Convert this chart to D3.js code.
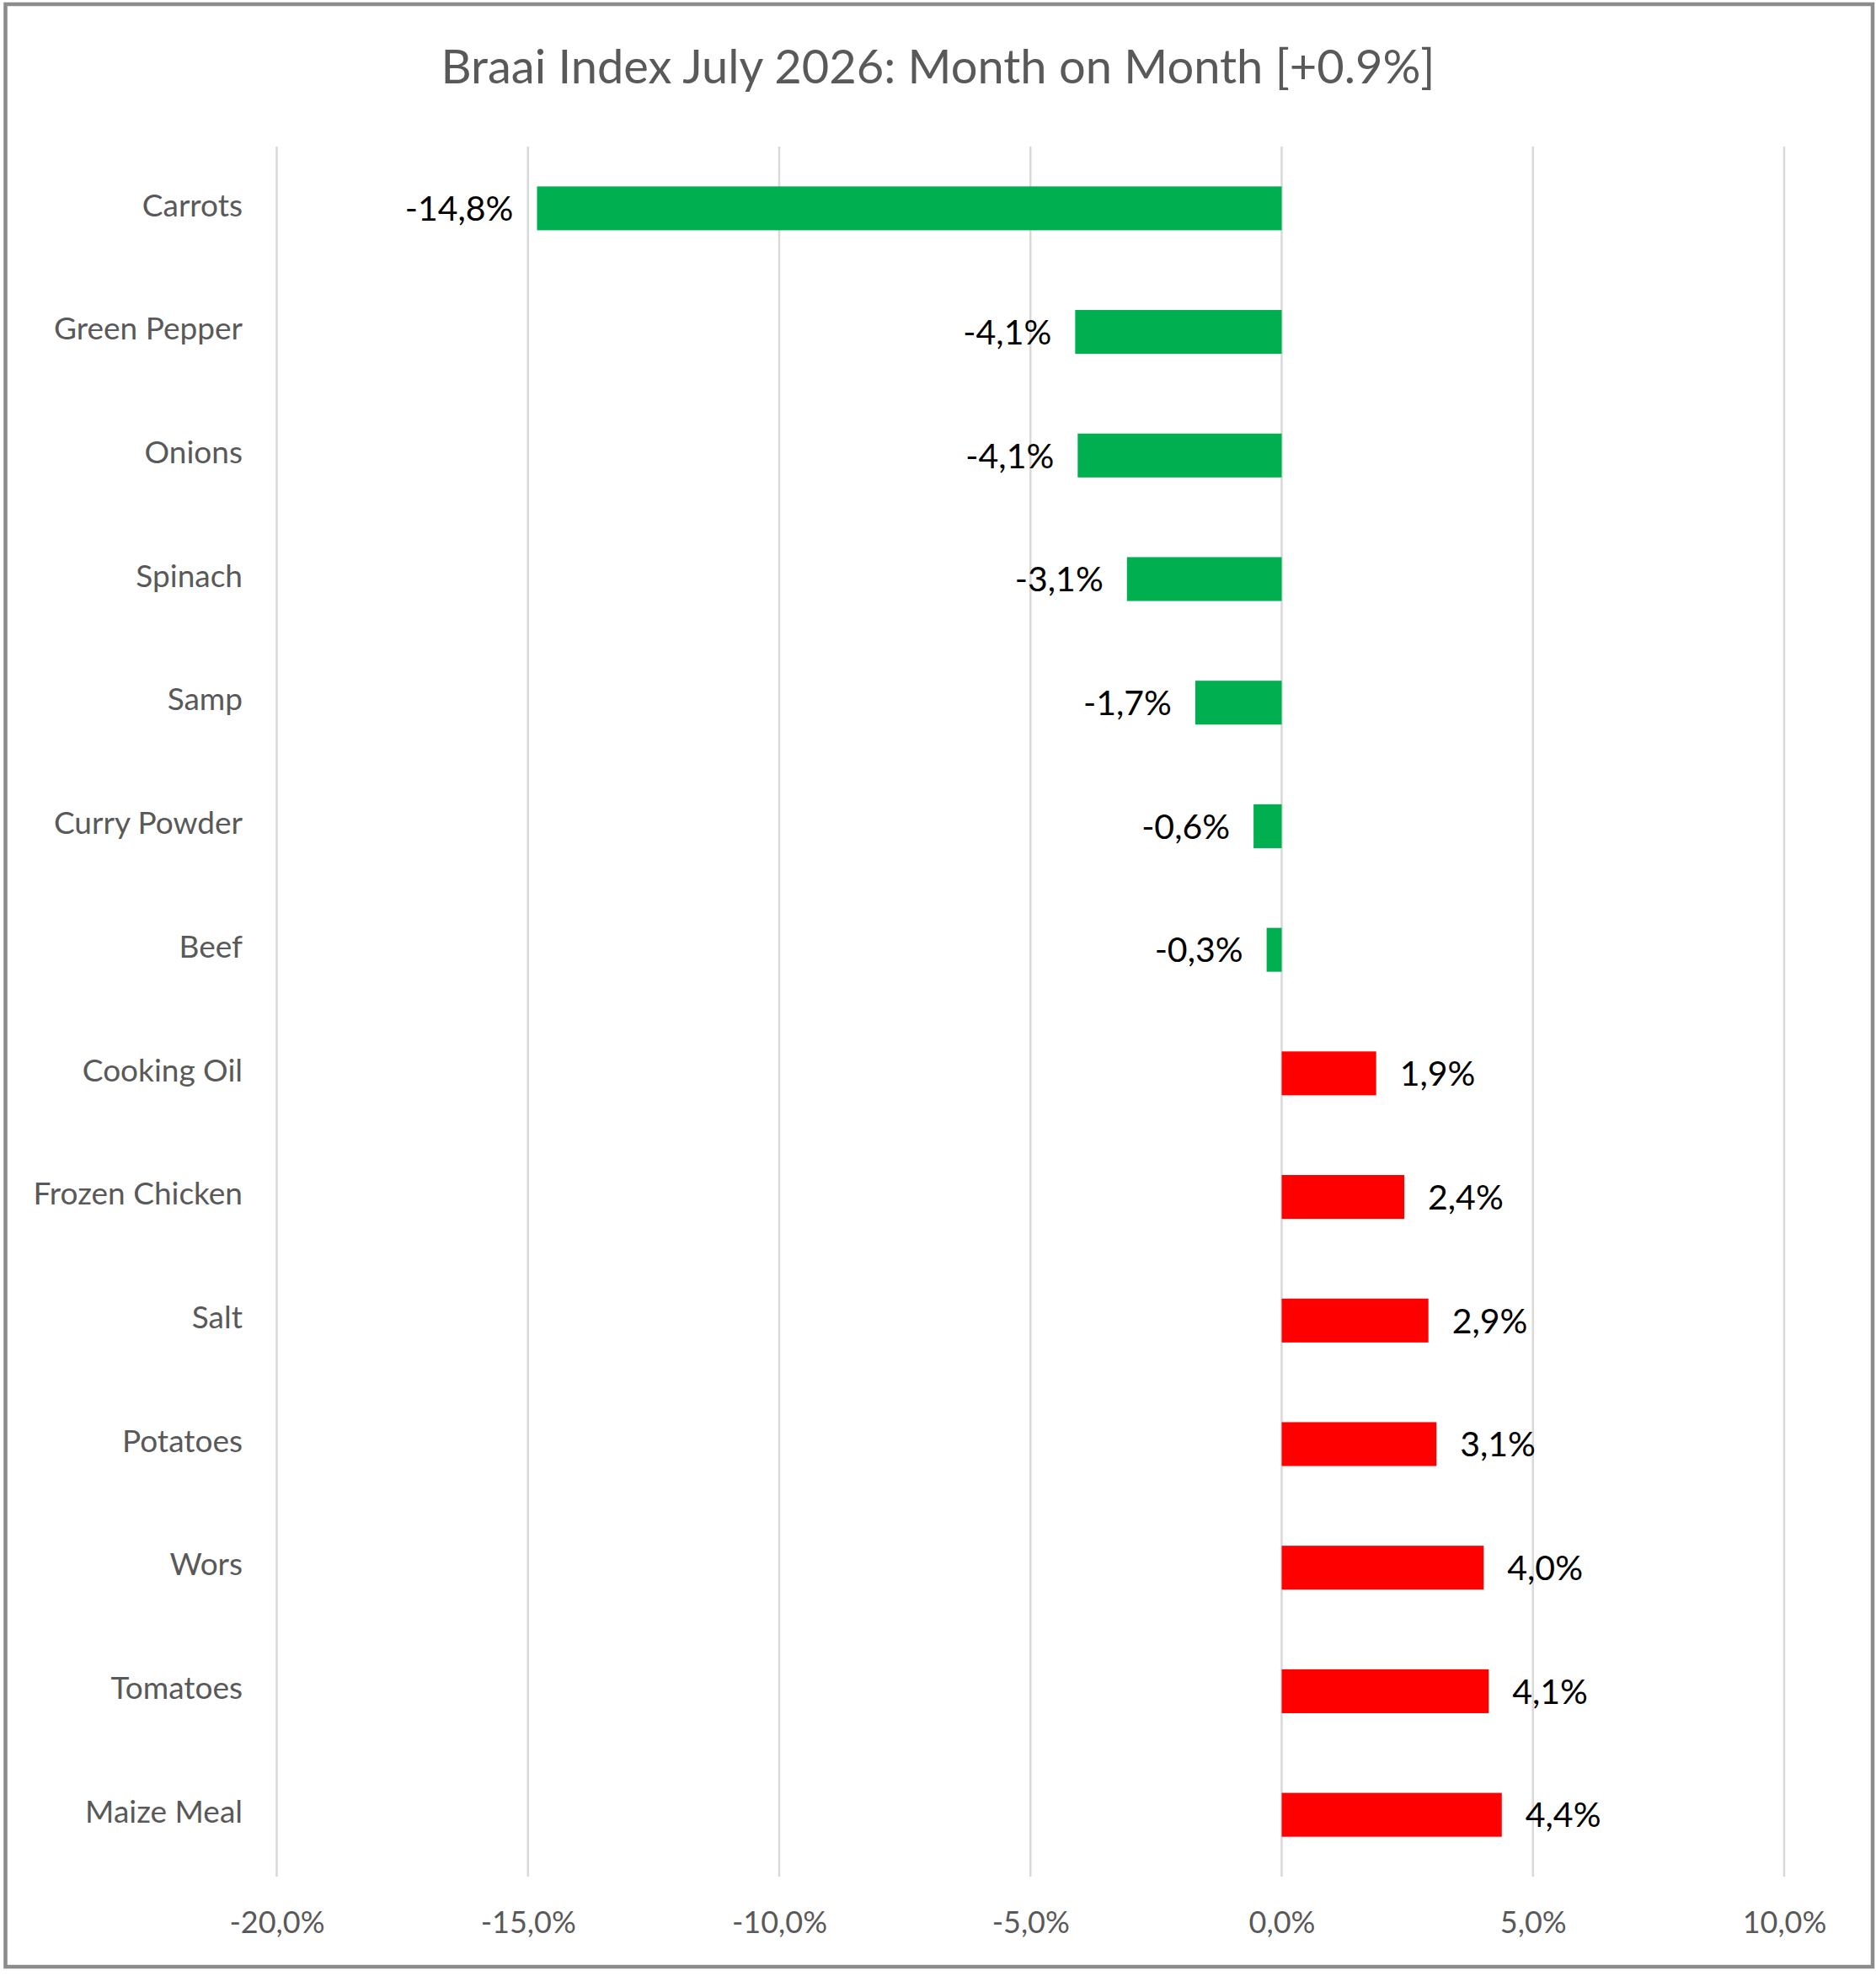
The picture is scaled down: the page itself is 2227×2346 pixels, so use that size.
<!DOCTYPE html>
<html>
<head>
<meta charset="utf-8">
<script src="https://cdn.jsdelivr.net/npm/d3@7"></script>
<style>
  body { margin: 0; background: #fff; }
  text { font-family: Lato, "Open Sans", sans-serif; }
</style>
</head>
<body>
<div id="bar-chart"></div>
<script>
// categories top to bottom
var categories = ["Carrots", "Green Pepper", "Onions", "Spinach", "Samp", "Curry Powder", "Beef",
  "Cooking Oil", "Frozen Chicken", "Salt", "Potatoes", "Wors", "Tomatoes", "Maize Meal"];

// month on month change, percent
var changes = [-14.82, -4.11, -4.06, -3.08, -1.72, -0.56, -0.3,
  1.88, 2.44, 2.92, 3.08, 4.02, 4.12, 4.38];

var tickValues = [-20, -15, -10, -5, 0, 5, 10];
var chartTitle = "Braai Index July 2026: Month on Month [+0.9%]";

var W = 2227, H = 2346;
var plot = {left: 328.5, right: 2118, top: 174, bottom: 2228};

var data = categories.map(function(c, i) { return {name: c, value: changes[i]}; });

// comma decimal and plain hyphen like the original
var fmt = d3.formatLocale({decimal: ",", thousands: " ", grouping: [3], currency: ["", ""], minus: "-"}).format(".1f");
function pct(v) { return fmt(v) + "%"; }

var svg = d3.select("#bar-chart").append("svg")
    .attr("width", W)
    .attr("height", H);

// frame
svg.append("rect")
    .attr("x", 6.5).attr("y", 5)
    .attr("width", W - 10.5).attr("height", H - 16)
    .attr("fill", "#fff")
    .attr("stroke", "#8c8c8c")
    .attr("stroke-width", 4.5);

// scales
var x = d3.scaleLinear()
    .domain([-20, 10])
    .range([plot.left, plot.right]);
var y = d3.scaleBand()
    .domain(categories)
    .range([plot.top, plot.bottom])
    .paddingInner(0.645)
    .paddingOuter(0.3225);

// title
svg.append("text")
    .attr("x", W / 2)
    .attr("y", 99)
    .attr("text-anchor", "middle")
    .style("font-size", "56px")
    .style("fill", "#595959")
    .text(chartTitle);

// vertical gridlines
svg.append("g")
  .selectAll("line")
    .data(tickValues)
  .enter().append("line")
    .attr("x1", function(d) { return x(d); })
    .attr("x2", function(d) { return x(d); })
    .attr("y1", plot.top)
    .attr("y2", plot.bottom)
    .attr("stroke", "#d9d9d9")
    .attr("stroke-width", 2.5);

// x axis labels
var xAxis = svg.append("g")
    .attr("transform", "translate(0," + 2282 + ")")
    .call(d3.axisBottom(x).tickValues(tickValues).tickFormat(pct).tickSize(0).tickPadding(0));
xAxis.select(".domain").remove();
xAxis.selectAll("text")
    .attr("y", 0)
    .attr("dy", "0.35em")
    .style("font-family", "Lato, 'Open Sans', sans-serif")
    .style("font-size", "36px")
    .style("fill", "#595959");

// category labels
var yAxis = svg.append("g")
    .attr("transform", "translate(" + 288 + ",0)")
    .call(d3.axisLeft(y).tickSize(0).tickPadding(0));
yAxis.select(".domain").remove();
yAxis.selectAll("text")
    .attr("dy", "0.25em")
    .style("font-family", "Lato, 'Open Sans', sans-serif")
    .style("font-size", "37px")
    .style("fill", "#595959");

// bars
svg.selectAll(".bar")
    .data(data)
  .enter().append("rect")
    .attr("class", "bar")
    .attr("x", function(d) { return x(Math.min(0, d.value)); })
    .attr("width", function(d) { return Math.abs(x(d.value) - x(0)); })
    .attr("y", function(d) { return y(d.name); })
    .attr("height", y.bandwidth())
    .attr("fill", function(d) { return d.value < 0 ? "#00b050" : "#ff0000"; });

// value labels
svg.selectAll(".label")
    .data(data)
  .enter().append("text")
    .attr("class", "label")
    .attr("x", function(d) { return d.value < 0 ? x(d.value) - 28 : x(d.value) + 28; })
    .attr("y", function(d) { return y(d.name) + y.bandwidth() / 2; })
    .attr("dy", "0.36em")
    .attr("text-anchor", function(d) { return d.value < 0 ? "end" : "start"; })
    .style("font-size", "41px")
    .style("fill", "#000")
    .text(function(d) { return pct(d.value); });
</script>
</body>
</html>
